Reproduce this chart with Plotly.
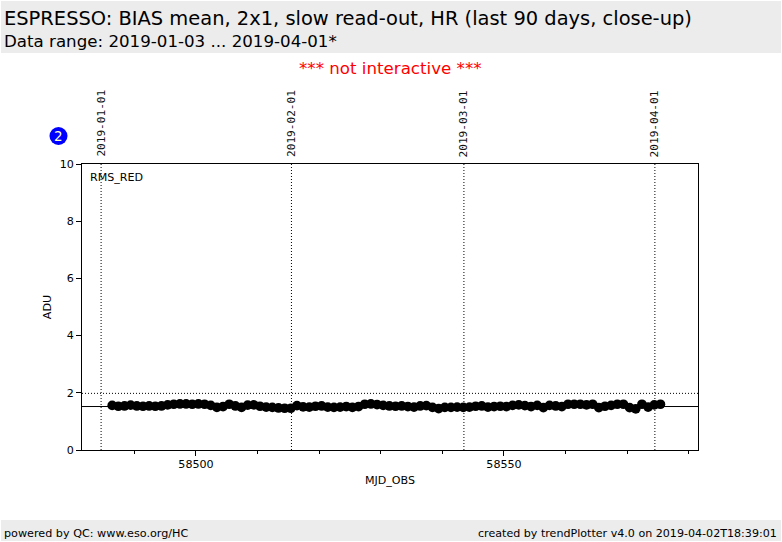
import plotly.graph_objects as go

mjd_obs = [58486.4, 58487.4, 58488.4, 58489.4, 58490.4, 58491.4, 58492.4, 58493.4, 58494.4, 58495.4,
           58496.4, 58497.4, 58498.4, 58499.4, 58500.4, 58501.4, 58502.4, 58503.4, 58504.4, 58505.4,
           58506.4, 58507.4, 58508.4, 58509.4, 58510.4, 58511.4, 58512.4, 58513.4, 58514.4, 58515.4,
           58516.4, 58517.4, 58518.4, 58519.4, 58520.4, 58521.4, 58522.4, 58523.4, 58524.4, 58525.4,
           58526.4, 58527.4, 58528.4, 58529.4, 58530.4, 58531.4, 58532.4, 58533.4, 58534.4, 58535.4,
           58536.4, 58537.4, 58538.4, 58539.4, 58540.4, 58541.4, 58542.4, 58543.4, 58544.4, 58545.4,
           58546.4, 58547.4, 58548.4, 58549.4, 58550.4, 58551.4, 58552.4, 58553.4, 58554.4, 58555.4,
           58556.4, 58557.4, 58558.4, 58559.4, 58560.4, 58561.4, 58562.4, 58563.4, 58564.4, 58565.4,
           58566.4, 58567.4, 58568.4, 58569.4, 58570.4, 58571.4, 58572.4, 58573.4, 58574.4, 58575.4]
rms_red = [1.56, 1.53, 1.54, 1.57, 1.54, 1.53, 1.54, 1.53, 1.54, 1.58,
           1.60, 1.61, 1.61, 1.60, 1.61, 1.60, 1.56, 1.49, 1.52, 1.60,
           1.54, 1.49, 1.57, 1.58, 1.53, 1.50, 1.49, 1.47, 1.46, 1.46,
           1.55, 1.51, 1.50, 1.53, 1.54, 1.50, 1.49, 1.50, 1.52, 1.49,
           1.52, 1.60, 1.61, 1.59, 1.56, 1.54, 1.53, 1.54, 1.52, 1.50,
           1.54, 1.55, 1.49, 1.45, 1.49, 1.49, 1.50, 1.49, 1.50, 1.53,
           1.54, 1.50, 1.52, 1.53, 1.52, 1.56, 1.58, 1.55, 1.52, 1.56,
           1.48, 1.56, 1.54, 1.52, 1.60, 1.60, 1.60, 1.58, 1.60, 1.48,
           1.53, 1.56, 1.60, 1.60, 1.48, 1.44, 1.60, 1.50, 1.58, 1.60]
date_labels = ["2019-01-01", "2019-02-01", "2019-03-01", "2019-04-01"]
date_mjd = [58484.6, 58515.5, 58543.5, 58574.5]
median_level = 1.52
upper_level = 1.98
x_ticks = [58500, 58550]
y_ticks = [0, 2, 4, 6, 8, 10]

W, H = 782, 542
L, R, T, B = 82, 698, 164, 450
FONT = "DejaVu Sans"
MONO = "DejaVu Sans Mono"


def px(x):
    return (x - L) / (R - L)


def py(y):
    return (B - y) / (B - T)


def rect(x0, y0, x1, y1):
    return dict(type="rect", xref="paper", yref="paper", layer="below",
                x0=px(x0), x1=px(x1), y0=py(y0), y1=py(y1),
                fillcolor="#ececec", line=dict(width=0))


def label(x, y, text, size, anchor="left", color="black", font=FONT):
    return dict(xref="paper", yref="paper", x=px(x), y=py(y), text=text, showarrow=False,
                xanchor=anchor, yanchor="middle", font=dict(family=font, size=size, color=color))


shapes = [rect(1, 1, 781, 53), rect(1, 520, 781, 541)]
for d in date_mjd:
    shapes.append(dict(type="line", xref="x", yref="paper", x0=d, x1=d, y0=0, y1=1,
                       line=dict(color="black", width=1, dash="1px,2px")))
shapes.append(dict(type="line", xref="paper", yref="y", x0=0, x1=1, y0=upper_level, y1=upper_level,
                   line=dict(color="black", width=1, dash="1px,2px")))
shapes.append(dict(type="line", xref="paper", yref="y", x0=0, x1=1, y0=median_level, y1=median_level,
                   line=dict(color="black", width=1)))
shapes.append(dict(type="circle", xref="paper", yref="paper",
                   x0=px(49.5), x1=px(67.5), y0=py(145), y1=py(127),
                   fillcolor="#0000ff", line=dict(width=0)))

annotations = [
    label(2, 18, "ESPRESSO: BIAS mean, 2x1, slow read-out, HR (last 90 days, close-up)", 19.44),
    label(2, 41, "Data range: 2019-01-03 ... 2019-04-01*", 16.67),
    label(390, 68, "*** not interactive ***", 16.67, "center", "#ff0000"),
    label(88, 177, "RMS_RED", 11.1),
    label(58.5, 136, "2", 13.5, "center", "#ffffcc"),
    label(2, 533, "powered by QC: www.eso.org/HC", 11.2),
    label(779, 533, "created by trendPlotter v4.0 on 2019-04-02T18:39:01", 11.1, "right"),
]
for d, t in zip(date_mjd, date_labels):
    annotations.append(dict(xref="x", yref="paper", x=d, y=1, yshift=5, text=t, showarrow=False,
                            textangle=-90, xanchor="center", yanchor="bottom",
                            font=dict(family=MONO, size=11.1, color="#111111")))

fig = go.Figure(go.Scatter(x=mjd_obs, y=rms_red, mode="markers",
                           marker=dict(color="black", size=9.7, line=dict(width=0)),
                           showlegend=False, cliponaxis=False))
fig.update_layout(
    width=W, height=H, autosize=False,
    margin=dict(l=L, r=W - R, t=T, b=H - B, pad=0),
    paper_bgcolor="white", plot_bgcolor="white",
    font=dict(family=FONT, size=11.1, color="black"),
    shapes=shapes, annotations=annotations, showlegend=False,
    xaxis=dict(range=[58481.5, 58581.5], tickmode="array", tickvals=x_ticks,
               tickformat="d", ticks="outside", ticklen=5, tickwidth=1, tickcolor="black",
               minor=dict(tickmode="array", tickvals=[58490, 58510, 58520, 58530, 58540, 58560, 58570, 58580],
                          ticks="outside", ticklen=3, tickwidth=1, tickcolor="black", showgrid=False),
               showgrid=False, zeroline=False, showline=True, linecolor="black", linewidth=1, mirror=True,
               title=dict(text="MJD_OBS", standoff=5, font=dict(size=11.1)),
               ticklabelstandoff=-1,
               tickfont=dict(size=11.1)),
    yaxis=dict(range=[0, 10], tickmode="array", tickvals=y_ticks,
               ticks="outside", ticklen=5, tickwidth=1, tickcolor="black",
               showgrid=False, zeroline=False, showline=True, linecolor="black", linewidth=1, mirror=True,
               title=dict(text="ADU", standoff=5, font=dict(size=11.1)),
               tickfont=dict(size=11.1)),
)
fig.write_html("out.html", config=dict(displayModeBar=False),
               post_script="document.body.style.margin='0';document.documentElement.style.overflow='hidden';")
